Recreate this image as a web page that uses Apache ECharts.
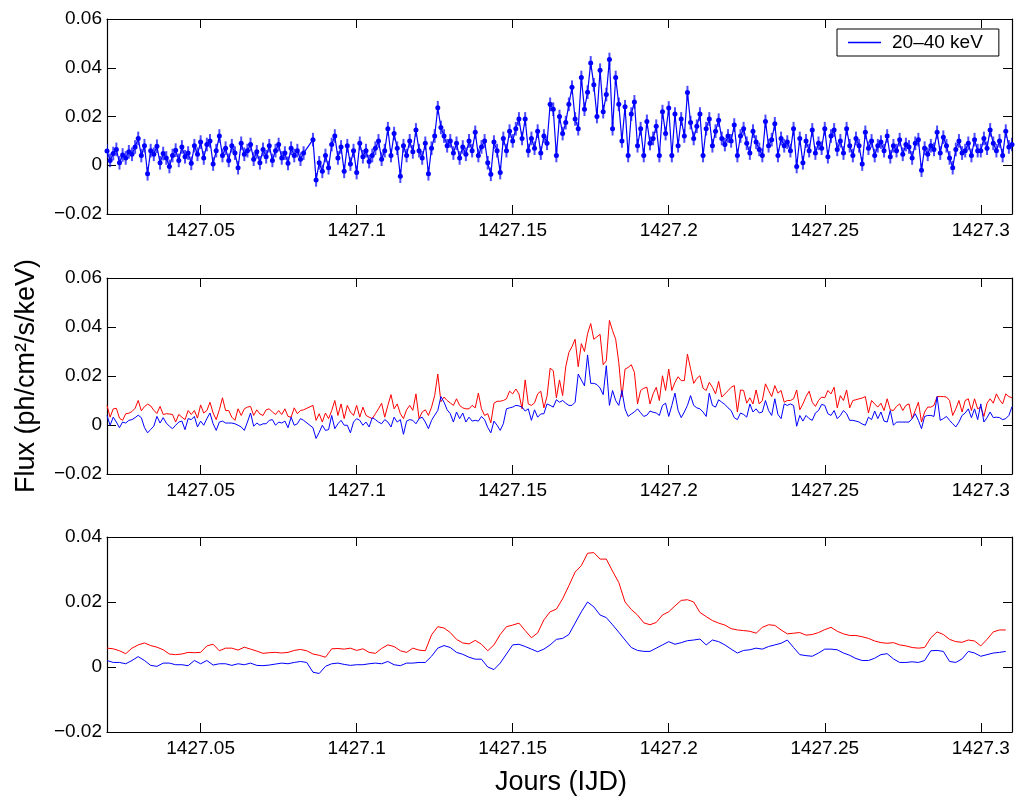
<!DOCTYPE html>
<html><head><meta charset="utf-8">
<script src="https://cdn.jsdelivr.net/npm/echarts@6/dist/echarts.min.js"></script>
<style>html,body{margin:0;padding:0;background:#fff}#c{width:1017px;height:801px}</style>
</head><body><div id="c"></div>
<script>
// Time grid of the fine light curves (IJD)
const T_FINE = [
1427.020,1427.021,1427.022,1427.023,1427.024,1427.025,1427.026,1427.027,1427.028,1427.029,
1427.030,1427.031,1427.032,1427.033,1427.034,1427.035,1427.036,1427.037,1427.038,1427.039,
1427.040,1427.041,1427.042,1427.043,1427.044,1427.045,1427.046,1427.047,1427.048,1427.049,
1427.050,1427.051,1427.052,1427.053,1427.054,1427.055,1427.056,1427.057,1427.058,1427.059,
1427.060,1427.061,1427.062,1427.063,1427.064,1427.065,1427.066,1427.067,1427.068,1427.069,
1427.070,1427.071,1427.072,1427.073,1427.074,1427.075,1427.076,1427.077,1427.078,1427.079,
1427.080,1427.081,1427.082,1427.083,1427.084,1427.085,1427.086,1427.087,1427.088,1427.089,
1427.090,1427.091,1427.092,1427.093,1427.094,1427.095,1427.096,1427.097,1427.098,1427.099,
1427.100,1427.101,1427.102,1427.103,1427.104,1427.105,1427.106,1427.107,1427.108,1427.109,
1427.110,1427.111,1427.112,1427.113,1427.114,1427.115,1427.116,1427.117,1427.118,1427.119,
1427.120,1427.121,1427.122,1427.123,1427.124,1427.125,1427.126,1427.127,1427.128,1427.129,
1427.130,1427.131,1427.132,1427.133,1427.134,1427.135,1427.136,1427.137,1427.138,1427.139,
1427.140,1427.141,1427.142,1427.143,1427.144,1427.145,1427.146,1427.147,1427.148,1427.149,
1427.150,1427.151,1427.152,1427.153,1427.154,1427.155,1427.156,1427.157,1427.158,1427.159,
1427.160,1427.161,1427.162,1427.163,1427.164,1427.165,1427.166,1427.167,1427.168,1427.169,
1427.170,1427.171,1427.172,1427.173,1427.174,1427.175,1427.176,1427.177,1427.178,1427.179,
1427.180,1427.181,1427.182,1427.183,1427.184,1427.185,1427.186,1427.187,1427.188,1427.189,
1427.190,1427.191,1427.192,1427.193,1427.194,1427.195,1427.196,1427.197,1427.198,1427.199,
1427.200,1427.201,1427.202,1427.203,1427.204,1427.205,1427.206,1427.207,1427.208,1427.209,
1427.210,1427.211,1427.212,1427.213,1427.214,1427.215,1427.216,1427.217,1427.218,1427.219,
1427.220,1427.221,1427.222,1427.223,1427.224,1427.225,1427.226,1427.227,1427.228,1427.229,
1427.230,1427.231,1427.232,1427.233,1427.234,1427.235,1427.236,1427.237,1427.238,1427.239,
1427.240,1427.241,1427.242,1427.243,1427.244,1427.245,1427.246,1427.247,1427.248,1427.249,
1427.250,1427.251,1427.252,1427.253,1427.254,1427.255,1427.256,1427.257,1427.258,1427.259,
1427.260,1427.261,1427.262,1427.263,1427.264,1427.265,1427.266,1427.267,1427.268,1427.269,
1427.270,1427.271,1427.272,1427.273,1427.274,1427.275,1427.276,1427.277,1427.278,1427.279,
1427.280,1427.281,1427.282,1427.283,1427.284,1427.285,1427.286,1427.287,1427.288,1427.289,
1427.290,1427.291,1427.292,1427.293,1427.294,1427.295,1427.296,1427.297,1427.298,1427.299,
1427.300,1427.301,1427.302,1427.303,1427.304,1427.305,1427.306,1427.307,1427.308,1427.309,
1427.310];

// Panel 1: 20-40 keV flux (null = data gap)
const FLUX_20_40 = [
.0058,.0020,.0048,.0065,.0010,.0042,.0030,.0055,.0045,.0075,
.0110,.0040,.0080,-.0035,.0060,.0045,.0078,.0010,.0048,.0030,
-.0005,.0040,.0062,.0020,.0075,.0035,.0050,.0008,.0080,.0045,
.0095,.0030,.0085,.0100,.0005,.0060,.0120,.0040,.0070,.0020,
.0080,.0050,-.0010,.0090,.0045,.0060,.0085,.0025,.0055,.0010,
.0065,.0035,.0080,.0020,.0060,.0085,.0030,.0050,.0008,.0070,
.0040,.0060,.0025,.0050,null,null,.0105,-.0060,.0010,-.0025,
.0040,-.0010,.0085,.0120,.0030,.0075,-.0025,.0080,.0005,.0060,
-.0030,.0090,.0035,.0060,.0015,.0040,.0070,.0100,.0025,.0060,
.0150,.0040,.0130,.0070,-.0045,.0080,.0040,.0100,.0055,.0145,
.0060,.0030,.0090,-.0035,.0070,.0120,.0236,.0155,.0120,.0080,
.0100,.0050,.0090,.0030,.0075,.0045,.0100,.0060,.0135,.0040,
.0075,.0100,.0010,-.0037,.0095,.0060,-.0030,.0110,.0060,.0140,
.0100,.0150,.0190,.0110,.0190,.0060,.0110,.0070,.0140,.0050,
.0120,.0090,.0250,.0230,.0040,.0200,.0130,.0175,.0250,.0320,
.0190,.0150,.0360,.0230,.0300,.0420,.0330,.0200,.0390,.0220,
.0290,.0434,.0150,.0360,.0250,.0100,.0240,.0040,.0210,.0260,
.0080,.0150,.0040,.0180,.0090,.0110,.0160,.0040,.0220,.0130,
.0235,.0040,.0210,.0080,.0190,.0120,.0298,.0175,.0110,.0160,
.0210,.0040,.0150,.0190,.0080,.0140,.0185,.0110,.0085,.0120,
.0100,.0165,.0040,.0120,.0150,.0090,.0050,.0140,.0095,.0065,
.0040,.0180,.0080,.0105,.0170,.0040,.0110,.0080,.0095,.0060,
.0150,-.0005,.0110,.0010,.0100,.0060,.0145,.0050,.0090,.0070,
.0150,.0035,.0120,.0145,.0065,.0100,.0050,.0150,.0080,.0040,
.0110,.0080,.0005,.0135,.0070,.0100,.0040,.0080,.0095,.0060,
.0120,.0035,.0080,.0060,.0105,.0045,.0085,.0075,.0030,.0090,
.0105,-.0020,.0070,.0045,.0080,.0065,.0135,.0050,.0115,.0080,
.0030,-.0010,.0065,.0100,.0050,.0060,.0090,.0040,.0105,.0060,
.0060,.0110,.0070,.0145,.0090,.0060,.0100,.0040,.0140,.0075,.0085];
const ERR_20_40 = 0.0028;

// Panel 2: red and blue light curves
const MID_RED = [
.0080,.0032,.0066,.0068,.0028,.0019,.0046,.0048,.0055,.0068,
.0100,.0058,.0075,.0085,.0078,.0060,.0047,.0076,.0043,.0046,
.0045,.0043,.0012,.0043,.0032,.0022,.0059,.0043,.0059,.0028,
.0082,.0049,.0059,.0093,.0049,.0022,.0062,.0111,.0059,.0059,
.0032,.0019,.0066,.0039,.0066,.0073,.0076,.0039,.0062,.0045,
.0039,.0062,.0066,.0053,.0043,.0059,.0043,.0066,.0035,.0032,
.0070,.0046,.0059,.0062,null,null,.0080,.0019,.0046,.0012,
.0049,.0026,.0059,.0100,.0039,.0086,.0026,.0080,.0053,.0039,
.0080,.0032,.0073,.0039,.0032,.0026,.0046,.0066,.0089,.0032,
.0080,.0124,.0066,.0086,.0046,.0026,.0062,.0080,.0060,.0127,
.0026,.0053,.0062,.0039,.0073,.0120,.0208,.0095,.0114,.0100,
.0090,.0080,.0107,.0080,.0070,.0066,.0066,.0080,.0070,.0130,
.0066,.0039,.0046,.0009,.0089,.0097,.0097,.0100,.0107,.0138,
.0127,.0147,.0127,.0066,.0184,.0086,.0080,.0090,.0127,.0138,
.0070,.0117,.0232,.0222,.0111,.0184,.0120,.0238,.0296,.0320,
.0350,.0238,.0332,.0300,.0373,.0414,.0350,.0360,.0370,.0246,
.0262,.0427,.0385,.0350,.0255,.0114,.0228,.0235,.0246,.0215,
.0086,.0141,.0150,.0154,.0086,.0127,.0154,.0100,.0201,.0141,
.0228,.0141,.0174,.0197,.0181,.0181,.0289,.0230,.0170,.0190,
.0201,.0150,.0141,.0174,.0154,.0127,.0178,.0114,.0127,.0140,
.0154,.0161,.0053,.0143,.0141,.0089,.0111,.0086,.0143,.0086,
.0100,.0168,.0141,.0116,.0161,.0130,.0141,.0093,.0100,.0100,
.0107,.0143,.0062,.0086,.0116,.0138,.0093,.0076,.0100,.0114,
.0111,.0141,.0127,.0154,.0070,.0120,.0100,.0143,.0070,.0100,
.0103,.0107,.0110,.0116,.0049,.0100,.0086,.0073,.0089,.0059,
.0107,.0062,.0059,.0076,.0086,.0059,.0080,.0086,.0026,.0059,
.0093,.0012,.0053,.0073,.0073,.0080,.0116,.0116,.0116,.0114,
.0100,.0039,.0066,.0100,.0053,.0100,.0107,.0059,.0107,.0066,
.0073,.0035,.0089,.0107,.0089,.0127,.0103,.0086,.0127,.0116,.0111];
const MID_BLUE = [
.0039,-.0001,.0032,.0012,-.0011,.0012,.0008,.0019,.0022,.0030,
.0040,.0030,-.0010,-.0032,-.0018,-.0005,.0035,.0008,.0030,.0008,
-.0005,-.0015,-.0001,.0012,.0016,-.0019,.0026,.0022,.0035,-.0008,
.0016,-.0001,.0026,.0049,.0005,-.0022,.0012,.0016,.0008,.0008,
.0008,.0005,-.0001,-.0008,-.0022,.0012,.0049,-.0005,.0008,-.0001,
.0005,.0005,.0019,.0022,-.0001,.0012,.0008,.0016,-.0011,.0032,
-.0001,.0005,.0026,.0019,null,null,-.0011,-.0055,-.0030,-.0001,
-.0022,-.0019,.0039,-.0015,.0005,.0019,-.0001,-.0001,-.0032,.0012,
.0026,.0019,-.0001,.0012,-.0008,.0030,.0022,.0012,.0005,.0022,
.0012,-.0008,.0032,.0012,.0022,-.0038,.0016,.0022,.0019,.0005,
.0026,.0032,.0012,-.0015,.0019,.0040,.0059,.0116,.0093,.0062,
.0046,.0012,.0053,.0026,.0049,.0012,.0032,.0016,.0019,.0016,
.0035,.0022,-.0010,-.0032,.0016,-.0001,-.0022,.0005,.0066,.0070,
.0073,.0080,.0078,.0073,.0057,.0066,.0019,.0062,.0032,.0045,
.0046,.0086,.0080,.0073,.0103,.0093,.0100,.0089,.0080,.0080,
.0093,.0208,.0184,.0160,.0286,.0170,.0170,.0165,.0151,.0124,
.0242,.0080,.0141,.0100,.0080,.0141,.0066,.0035,.0045,.0053,
.0066,.0050,.0035,.0040,.0057,.0052,.0049,.0039,.0080,.0089,
.0035,.0080,.0130,.0060,.0030,.0053,.0080,.0120,.0080,.0070,
.0066,.0053,.0035,.0130,.0080,.0073,.0103,.0093,.0084,.0070,
.0059,.0030,.0022,.0049,.0043,.0032,.0086,.0053,.0066,.0049,
.0053,.0100,.0059,.0039,.0107,.0043,.0026,.0086,.0080,.0086,
.0080,-.0005,.0039,.0016,.0039,.0026,.0019,.0049,.0059,.0084,
.0080,.0046,.0039,.0059,.0026,.0039,.0059,.0046,.0019,.0019,
.0016,.0012,.0004,-.0001,.0032,.0022,.0057,.0026,.0053,.0016,
.0012,.0059,-.0001,.0012,.0012,.0012,.0012,.0012,.0026,.0046,
.0019,-.0015,.0035,.0039,.0039,.0035,.0116,.0019,.0026,.0035,
.0019,.0005,-.0008,.0012,.0039,.0049,.0066,.0030,.0066,.0022,
.0086,.0012,.0030,.0053,.0030,.0032,.0030,.0022,.0026,.0039,.0075];

// Panel 3: smoothed light curves
const T_SMOOTH = [
1427.020,1427.022,1427.024,1427.026,1427.028,1427.030,1427.032,1427.034,1427.036,1427.038,
1427.040,1427.042,1427.044,1427.046,1427.048,1427.050,1427.052,1427.054,1427.056,1427.058,
1427.060,1427.062,1427.064,1427.066,1427.068,1427.070,1427.072,1427.074,1427.076,1427.078,
1427.080,1427.082,1427.084,1427.086,1427.088,1427.090,1427.092,1427.094,1427.096,1427.098,
1427.100,1427.102,1427.104,1427.106,1427.108,1427.110,1427.112,1427.114,1427.116,1427.118,
1427.120,1427.122,1427.124,1427.126,1427.128,1427.130,1427.132,1427.134,1427.136,1427.138,
1427.140,1427.142,1427.144,1427.146,1427.148,1427.150,1427.152,1427.154,1427.156,1427.158,
1427.160,1427.162,1427.164,1427.166,1427.168,1427.170,1427.172,1427.174,1427.176,1427.178,
1427.180,1427.182,1427.184,1427.186,1427.188,1427.190,1427.192,1427.194,1427.196,1427.198,
1427.200,1427.202,1427.204,1427.206,1427.208,1427.210,1427.212,1427.214,1427.216,1427.218,
1427.220,1427.222,1427.224,1427.226,1427.228,1427.230,1427.232,1427.234,1427.236,1427.238,
1427.240,1427.242,1427.244,1427.246,1427.248,1427.250,1427.252,1427.254,1427.256,1427.258,
1427.260,1427.262,1427.264,1427.266,1427.268,1427.270,1427.272,1427.274,1427.276,1427.278,
1427.280,1427.282,1427.284,1427.286,1427.288,1427.290,1427.292,1427.294,1427.296,1427.298,
1427.300,1427.302,1427.304,1427.306,1427.308];
const SMOOTH_RED = [
.0058,.0056,.0050,.0041,.0058,.0068,.0074,.0066,.0061,.0053,
.0040,.0038,.0040,.0045,.0044,.0045,.0065,.0070,.0050,.0058,
.0058,.0052,.0061,.0055,.0049,.0042,.0044,.0045,.0043,.0045,
.0051,.0054,.0050,.0040,.0036,.0030,.0056,.0057,.0055,.0058,
.0051,.0056,.0045,.0042,.0057,.0068,.0063,.0050,.0045,.0058,
.0052,.0050,.0099,.0124,.0120,.0106,.0085,.0074,.0071,.0082,
.0070,.0050,.0068,.0100,.0124,.0129,.0135,.0112,.0090,.0105,
.0145,.0170,.0178,.0210,.0250,.0292,.0312,.0350,.0352,.0332,
.0332,.0295,.0260,.0200,.0177,.0160,.0136,.0130,.0137,.0160,
.0170,.0188,.0205,.0207,.0200,.0168,.0155,.0143,.0135,.0129,
.0118,.0114,.0112,.0110,.0104,.0122,.0130,.0128,.0114,.0102,
.0104,.0106,.0098,.0100,.0106,.0115,.0122,.0110,.0102,.0097,
.0097,.0093,.0088,.0080,.0075,.0073,.0075,.0068,.0065,.0060,
.0058,.0060,.0090,.0108,.0100,.0085,.0078,.0076,.0083,.0080,
.0065,.0085,.0108,.0114,.0114];
const SMOOTH_BLUE = [
.0020,.0014,.0014,.0010,.0020,.0032,.0020,.0005,.0002,.0012,
.0012,.0007,.0007,.0004,.0020,.0010,.0020,.0006,.0010,.0010,
.0005,.0010,.0007,.0012,.0005,.0004,.0006,.0009,.0012,.0010,
.0014,.0017,.0014,-.0016,-.0020,.0002,.0010,.0012,.0008,.0005,
.0007,.0007,.0010,.0012,.0010,.0017,.0007,.0004,.0012,.0012,
.0014,.0014,.0033,.0058,.0066,.0060,.0045,.0039,.0030,.0024,
.0024,.0000,-.0008,.0012,.0040,.0068,.0070,.0063,.0055,.0047,
.0055,.0068,.0085,.0088,.0100,.0135,.0170,.0200,.0185,.0160,
.0152,.0130,.0107,.0083,.0060,.0051,.0048,.0048,.0058,.0068,
.0078,.0070,.0075,.0081,.0083,.0086,.0068,.0083,.0078,.0068,
.0055,.0043,.0051,.0053,.0058,.0055,.0063,.0068,.0073,.0083,
.0060,.0038,.0035,.0033,.0043,.0055,.0055,.0053,.0043,.0036,
.0026,.0020,.0020,.0027,.0038,.0041,.0025,.0014,.0014,.0016,
.0014,.0020,.0050,.0051,.0048,.0017,.0014,.0025,.0048,.0043,
.0033,.0038,.0043,.0045,.0048];

const X_TICKS = [1427.05, 1427.1, 1427.15, 1427.2, 1427.25, 1427.3];
const X_TICK_LABELS = ['1427.05', '1427.1', '1427.15', '1427.2', '1427.25', '1427.3'];
const Y_TICK_LABELS = {'-0.02': '\u22120.02', '0.00': '0', '0.02': '0.02', '0.04': '0.04', '0.06': '0.06'};
const LEGEND_LABEL = '20\u201340 keV';
const X_TITLE = 'Jours (IJD)';
const Y_TITLE = 'Flux (ph/cm\u00b2/s/keV)';

const FONT = '"Liberation Sans", Arial, Helvetica, sans-serif';
const chart = echarts.init(document.getElementById('c'), null, {renderer: 'canvas'});

function zip(ts, vs) {
  const out = [];
  for (let i = 0; i < ts.length; i++) if (vs[i] !== null && vs[i] !== undefined) out.push([ts[i], vs[i]]);
  return out;
}
function xLabel(v) {
  const i = X_TICKS.findIndex(x => Math.abs(x - v) < 1e-6);
  return i >= 0 ? X_TICK_LABELS[i] : '';
}
function yLabel(v) {
  const k = (Math.abs(v) < 1e-9 ? 0 : v).toFixed(2);
  return Y_TICK_LABELS[k] !== undefined ? Y_TICK_LABELS[k] : k;
}

const grids = [
  {left: 107, top: 19, width: 905, height: 195},
  {left: 107, top: 278, width: 905, height: 196},
  {left: 107, top: 537, width: 905, height: 195}
];
const yRanges = [[-0.02, 0.06], [-0.02, 0.06], [-0.02, 0.04]];
const axisLine = {show: true, onZero: false, lineStyle: {color: '#000', width: 1.2}};
const xAxes = [], yAxes = [];
grids.forEach((g, i) => {
  [false, true].forEach(mirror => {
    xAxes.push({
      type: 'value', gridIndex: i, min: 1427.02, max: 1427.31,
      position: mirror ? 'top' : 'bottom',
      axisLine: axisLine,
      axisTick: {show: true, inside: true, length: 9, customValues: X_TICKS, lineStyle: {color: '#000', width: 1}},
      axisLabel: mirror ? {show: false} : {show: true, customValues: X_TICKS, formatter: xLabel,
        fontSize: 19, fontFamily: FONT, color: '#000', margin: 7},
      splitLine: {show: false}
    });
    yAxes.push({
      type: 'value', gridIndex: i, min: yRanges[i][0], max: yRanges[i][1], interval: 0.02,
      position: mirror ? 'right' : 'left',
      axisLine: axisLine,
      axisTick: {show: true, inside: true, length: 9, lineStyle: {color: '#000', width: 1}},
      axisLabel: mirror ? {show: false} : {show: true, formatter: yLabel,
        fontSize: 19, fontFamily: FONT, color: '#000', margin: 5},
      splitLine: {show: false}
    });
  });
});

const errData = [];
for (let i = 0; i < T_FINE.length; i++) {
  const v = FLUX_20_40[i];
  if (v === null) continue;
  errData.push([T_FINE[i], v - ERR_20_40, v + ERR_20_40]);
}

const option = {
  animation: false,
  backgroundColor: '#fff',
  grid: grids,
  xAxis: xAxes,
  yAxis: yAxes,
  legend: {
    show: true, selectedMode: false,
    data: [{name: LEGEND_LABEL, icon: 'rect'}],
    left: 837, top: 29, itemWidth: 33, itemHeight: 1.5,
    padding: [4, 16, 4, 11],
    borderColor: '#000', borderWidth: 1, borderRadius: 0, backgroundColor: '#fff',
    itemStyle: {color: '#0000ff'},
    textStyle: {fontSize: 19, fontFamily: FONT, color: '#000', padding: [0, 0, 0, 6]}
  },
  series: [
    {
      type: 'custom', name: 'err', xAxisIndex: 0, yAxisIndex: 0, clip: true, z: 2,
      data: errData, encode: {x: 0, y: [1, 2]},
      renderItem: function (params, api) {
        const a = api.coord([api.value(0), api.value(1)]);
        const b = api.coord([api.value(0), api.value(2)]);
        return {type: 'line', shape: {x1: a[0], y1: a[1], x2: b[0], y2: b[1]},
          style: {stroke: 'rgba(0,0,255,0.7)', lineWidth: 2}};
      }
    },
    {
      type: 'line', name: LEGEND_LABEL, xAxisIndex: 0, yAxisIndex: 0, z: 3,
      data: zip(T_FINE, FLUX_20_40), connectNulls: true,
      symbol: 'circle', symbolSize: 5, showSymbol: true, showAllSymbol: true,
      lineStyle: {color: '#0000ff', width: 1.2}, itemStyle: {color: '#0000ff'}
    },
    {
      type: 'line', name: 'mid-red', xAxisIndex: 2, yAxisIndex: 2,
      data: zip(T_FINE, MID_RED), showSymbol: false, connectNulls: true,
      lineStyle: {color: '#ff0000', width: 1}, itemStyle: {color: '#ff0000'}
    },
    {
      type: 'line', name: 'mid-blue', xAxisIndex: 2, yAxisIndex: 2,
      data: zip(T_FINE, MID_BLUE), showSymbol: false, connectNulls: true,
      lineStyle: {color: '#0000ff', width: 1}, itemStyle: {color: '#0000ff'}
    },
    {
      type: 'line', name: 'smooth-red', xAxisIndex: 4, yAxisIndex: 4,
      data: zip(T_SMOOTH, SMOOTH_RED), showSymbol: false,
      lineStyle: {color: '#ff0000', width: 1}, itemStyle: {color: '#ff0000'}
    },
    {
      type: 'line', name: 'smooth-blue', xAxisIndex: 4, yAxisIndex: 4,
      data: zip(T_SMOOTH, SMOOTH_BLUE), showSymbol: false,
      lineStyle: {color: '#0000ff', width: 1}, itemStyle: {color: '#0000ff'}
    }
  ],
  graphic: [
    {type: 'text', x: 27, y: 376, rotation: Math.PI / 2,
      style: {text: Y_TITLE, fontSize: 27, fontFamily: FONT, fill: '#000', align: 'center', verticalAlign: 'middle'}},
    {type: 'text', x: 561, y: 783,
      style: {text: X_TITLE, fontSize: 27, fontFamily: FONT, fill: '#000', align: 'center', verticalAlign: 'middle'}}
  ]
};
chart.setOption(option);
</script>
</body></html>
